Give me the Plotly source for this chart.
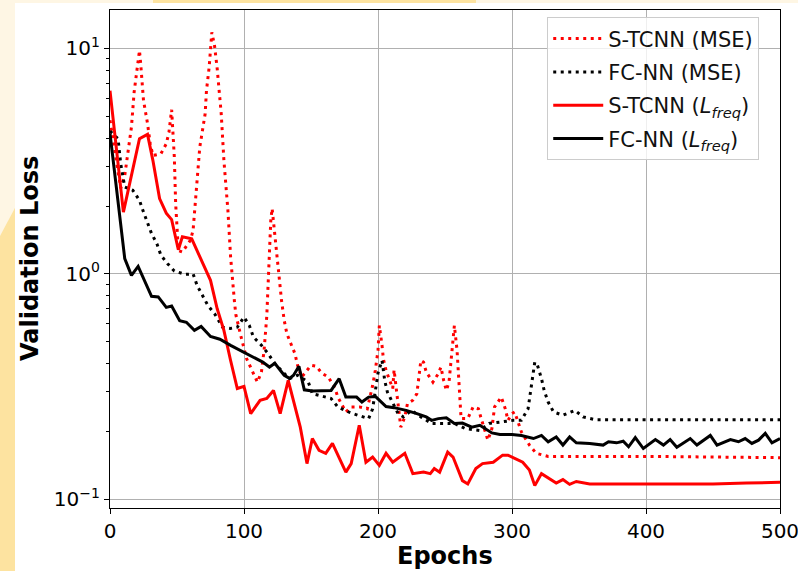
import plotly.graph_objects as go

# ---- validation-loss curves ------------------------------------------------
st_mse_epochs = [0, 8, 11, 16, 18, 22, 23, 25, 28, 30, 32, 38, 42, 44, 46, 47, 48, 49, 51, 54,
                 60, 62, 64, 67, 71, 72, 74, 76, 78, 80, 83, 85, 88, 90, 93, 94, 98, 102, 106, 110,
                 113, 115, 117, 119, 120, 121, 123, 125, 128, 130, 132, 135, 138, 140, 143, 150, 154, 158, 163, 168,
                 170, 176, 180, 186, 192, 196, 198, 200, 201, 203, 204, 206, 209, 211, 212, 217, 220, 222, 226, 229,
                 232, 234, 236, 241, 245, 247, 249, 251, 253, 257, 259, 262, 267, 271, 275, 277, 282, 285, 287, 292,
                 295, 297, 300, 302, 307, 313, 318, 327, 400, 450, 500]
st_mse_loss = [4.8, 2.4, 2.73, 4.48, 6.4, 9.8, 8.4, 5.88, 4.65, 3.79, 3.35, 3.41, 3.78, 4.25, 5.35, 4.19, 3.3, 2.05, 1.27, 1.25,
               1.41, 1.56, 2.27, 3.65, 5.13, 6.51, 8.26, 11.8, 10.3, 8.13, 5.13, 3.19, 1.91, 1.19, 0.738, 0.655, 0.52, 0.42, 0.373, 0.331,
               0.367, 0.458, 0.65, 1.23, 1.73, 1.95, 1.5, 1.09, 0.763, 0.622, 0.543, 0.49, 0.443, 0.393, 0.348, 0.393, 0.389, 0.363, 0.348, 0.31,
               0.284, 0.244, 0.257, 0.257, 0.252, 0.32, 0.373, 0.458, 0.59, 0.482, 0.42, 0.373, 0.337, 0.31, 0.375, 0.209, 0.232, 0.266, 0.275, 0.294,
               0.413, 0.406, 0.367, 0.331, 0.361, 0.386, 0.337, 0.304, 0.331, 0.59, 0.458, 0.228, 0.228, 0.257, 0.252, 0.228, 0.183, 0.206, 0.257, 0.284,
               0.252, 0.224, 0.24, 0.244, 0.199, 0.174, 0.16, 0.155, 0.155, 0.154, 0.153]

fc_mse_epochs = [0, 6, 8, 11, 17, 22, 25, 28, 31, 35, 38, 43, 48, 56, 62, 65, 69, 73, 78, 84,
                 90, 95, 100, 104, 107, 113, 118, 123, 129, 134, 140, 148, 151, 165, 170, 178, 185, 193, 196, 200,
                 203, 205, 207, 211, 215, 219, 225, 232, 240, 249, 257, 265, 276, 283, 292, 301, 307, 312, 317, 319,
                 322, 324, 327, 331, 338, 347, 353, 362, 400, 450, 500]
fc_mse_loss = [4.3, 3.98, 3.08, 2.43, 2.35, 2.12, 1.88, 1.70, 1.51, 1.36, 1.21, 1.11, 1.03, 0.995, 1.0, 0.889, 0.803, 0.725, 0.666, 0.58,
               0.573, 0.58, 0.643, 0.59, 0.525, 0.482, 0.443, 0.40, 0.367, 0.343, 0.355, 0.331, 0.294, 0.28, 0.257, 0.244, 0.236, 0.228, 0.252, 0.363,
               0.413, 0.337, 0.299, 0.266, 0.24, 0.232, 0.248, 0.232, 0.217, 0.217, 0.217, 0.206, 0.202, 0.217, 0.22, 0.224, 0.224, 0.252, 0.406, 0.393,
               0.343, 0.304, 0.27, 0.244, 0.236, 0.248, 0.232, 0.2256, 0.2256, 0.2256, 0.2256]

st_lfreq_epochs = [0, 10, 22, 28, 32, 37, 42, 46, 51, 54, 61, 75, 80, 85, 90, 95, 100, 105, 112, 117,
                   122, 127, 133, 142, 147, 151, 156, 161, 166, 176, 180, 186, 191, 196, 201, 206, 211, 220, 226, 234,
                   239, 242, 246, 252, 256, 263, 267, 273, 278, 286, 293, 297, 302, 308, 313, 317, 322, 328, 333, 338,
                   343, 348, 358, 400, 450, 475, 500]
st_lfreq_loss = [6.5, 1.88, 3.98, 4.16, 3.19, 2.16, 1.86, 1.74, 1.28, 1.46, 1.43, 0.936, 0.70, 0.562, 0.413, 0.31, 0.317, 0.24, 0.275, 0.28,
                 0.304, 0.24, 0.337, 0.209, 0.144, 0.186, 0.165, 0.16, 0.177, 0.132, 0.144, 0.213, 0.146, 0.154, 0.1415, 0.16, 0.146, 0.16, 0.13, 0.132,
                 0.13, 0.137, 0.132, 0.162, 0.154, 0.121, 0.117, 0.137, 0.144, 0.146, 0.157, 0.157, 0.152, 0.146, 0.135, 0.115, 0.13, 0.1236, 0.118, 0.1223,
                 0.1165, 0.12, 0.117, 0.117, 0.117, 0.118, 0.119]

fc_lfreq_epochs = [0, 11, 16, 21, 31, 36, 42, 46, 52, 57, 63, 68, 75, 82, 90, 97, 104, 114, 119, 123,
                   130, 134, 137, 141, 145, 151, 165, 171, 176, 184, 188, 193, 198, 206, 212, 221, 229, 236, 240, 245,
                   251, 257, 263, 270, 276, 285, 291, 300, 307, 316, 322, 327, 333, 338, 343, 348, 358, 368, 372, 378,
                   383, 387, 392, 398, 407, 413, 418, 423, 433, 438, 448, 453, 463, 469, 474, 479, 484, 489, 494, 500]
fc_lfreq_loss = [4.2, 1.17, 0.985, 1.08, 0.795, 0.79, 0.71, 0.72, 0.62, 0.61, 0.562, 0.585, 0.528, 0.513, 0.482, 0.458, 0.435, 0.406, 0.386, 0.401,
                 0.355, 0.344, 0.355, 0.389, 0.306, 0.302, 0.304, 0.343, 0.284, 0.284, 0.27, 0.284, 0.286, 0.258, 0.255, 0.248, 0.24, 0.232, 0.224, 0.228,
                 0.23, 0.217, 0.218, 0.209, 0.213, 0.197, 0.194, 0.194, 0.192, 0.186, 0.192, 0.18, 0.189, 0.174, 0.189, 0.178, 0.177, 0.174, 0.18, 0.178,
                 0.181, 0.171, 0.188, 0.168, 0.184, 0.174, 0.184, 0.17, 0.186, 0.174, 0.192, 0.174, 0.184, 0.18, 0.186, 0.177, 0.183, 0.196, 0.178, 0.186]

x_ticks = [0, 100, 200, 300, 400, 500]
y_ticks = [0.1, 1, 10]
y_tick_text = ["10<sup>\u22121</sup>", "10<sup>0</sup>", "10<sup>1</sup>"]
y_minor = [m * 10.0 ** d for d in (-1, 0) for m in range(2, 10)]

FONT = "DejaVu Sans"
W, H = 798, 571
ML, MR, MT, MB = 110, 18, 10, 63
PW, PH = W - ML - MR, H - MT - MB


def px(x):
    return (x - ML) / PW


def py(y):
    return (H - MB - y) / PH


fig = go.Figure()

series = [
    ("S-TCNN (MSE)", st_mse_epochs, st_mse_loss, "red", "3px,4.5px"),
    ("FC-NN (MSE)", fc_mse_epochs, fc_mse_loss, "black", "3px,4.5px"),
    ("S-TCNN (<i>L</i><sub><i>freq</i></sub>)", st_lfreq_epochs, st_lfreq_loss, "red", "solid"),
    ("FC-NN (<i>L</i><sub><i>freq</i></sub>)", fc_lfreq_epochs, fc_lfreq_loss, "black", "solid"),
]
for i, (name, ex, ly, col, dash) in enumerate(series):
    fig.add_trace(go.Scatter(x=ex, y=ly, mode="lines", name=name, legendgroup=f"g{i}",
                             line=dict(color=col, width=3, dash=dash)))

# helper trace so the minor-tick axis is drawn
fig.add_trace(go.Scatter(x=[None], y=[None], yaxis="y2", showlegend=False, hoverinfo="skip"))

# page background behind the white figure
shapes = [
    dict(type="rect", xref="paper", yref="paper", x0=px(153), x1=px(476), y0=py(0), y1=py(4),
         fillcolor="#fde3a0", line_width=0, layer="below"),
    dict(type="path", xref="paper", yref="paper",
         path=f"M {px(0)} {py(236)} L {px(16)} {py(206)} L {px(16)} {py(H)} L {px(0)} {py(H)} Z",
         fillcolor="#fde3a0", line_width=0, layer="below"),
    dict(type="rect", xref="paper", yref="paper", x0=px(15), x1=px(W), y0=py(3), y1=py(H),
         fillcolor="white", line_width=0, layer="below"),
]

fig.update_layout(
    width=W, height=H, autosize=False,
    margin=dict(l=ML, r=MR, t=MT, b=MB, pad=0, autoexpand=False),
    paper_bgcolor="#fef6e4", plot_bgcolor="white",
    font=dict(family=FONT, size=20, color="black"),
    shapes=shapes,
    showlegend=True,
    legend=dict(x=0.969, y=0.985, xanchor="right", yanchor="top",
                bgcolor="rgba(255,255,255,0.8)", bordercolor="#cccccc", borderwidth=1,
                font=dict(family=FONT, size=21, color="#111111"), tracegroupgap=3,
                itemwidth=50),
    xaxis=dict(range=[0, 500], tickvals=x_ticks, ticks="outside", ticklen=5, tickwidth=1,
               tickcolor="black", showline=True, linecolor="black", linewidth=1.2, mirror=True,
               showgrid=True, gridcolor="#b0b0b0", gridwidth=1, zeroline=False,
               tickfont=dict(size=20), ticklabeloverflow="allow", automargin=False),
    yaxis=dict(type="log", range=[-1.0386, 1.1707], tickvals=y_ticks, ticktext=y_tick_text,
               ticks="outside", ticklen=5, tickwidth=1, tickcolor="black",
               showline=True, linecolor="black", linewidth=1.2, mirror=True,
               showgrid=True, gridcolor="#b0b0b0", gridwidth=1, zeroline=False,
               tickfont=dict(size=20), automargin=False),
    yaxis2=dict(type="log", range=[-1.0386, 1.1707], overlaying="y", anchor="x", side="left",
                tickvals=y_minor, ticktext=[""] * len(y_minor), ticks="outside", ticklen=3,
                tickwidth=1, tickcolor="black", showgrid=False, showline=False, zeroline=False,
                automargin=False),
    annotations=[
        dict(text="<b>Validation Loss</b>", xref="paper", yref="paper", x=0, y=0.5,
             xshift=-80, xanchor="center", yanchor="middle", textangle=-90, showarrow=False,
             font=dict(family=FONT, size=24, color="black")),
        dict(text="<b>Epochs</b>", xref="paper", yref="paper", x=0.5, y=0,
             yshift=-48, xanchor="center", yanchor="middle", showarrow=False,
             font=dict(family=FONT, size=24, color="black")),
    ],
)

fig.write_html("out.html")
